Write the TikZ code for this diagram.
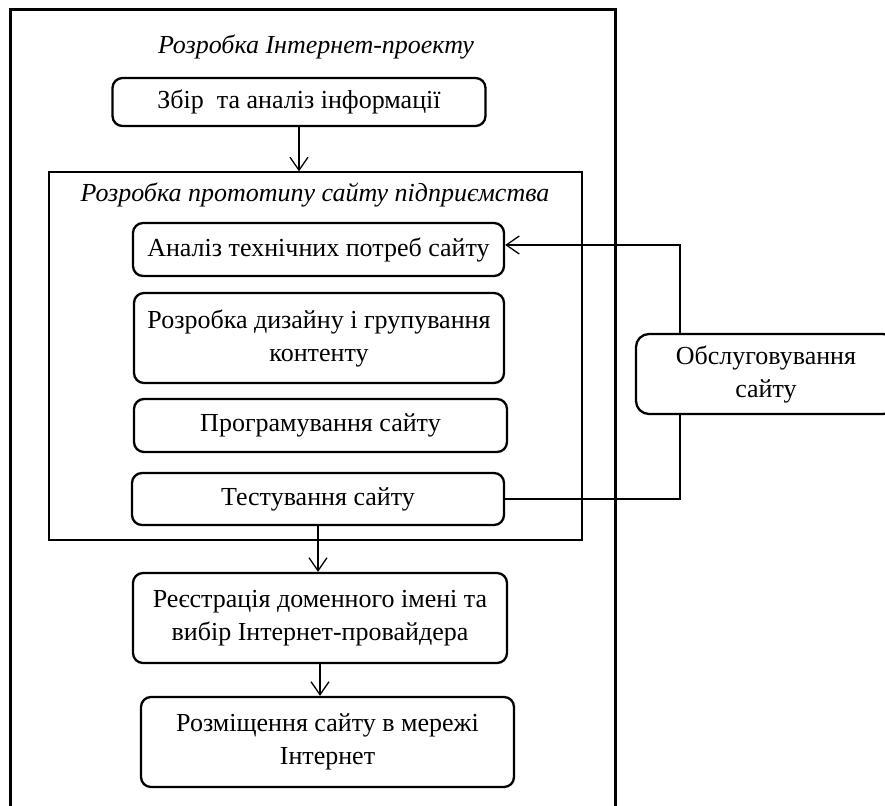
\documentclass[tikz,border=0pt]{standalone}
\usepackage{fontspec}
\setmainfont{Liberation Serif}
\usetikzlibrary{arrows.meta}
\begin{document}
\begin{tikzpicture}[x=1pt,y=-1pt,
  stage/.style={draw, line width=2.3pt, rounded corners=10pt, align=center, inner sep=0pt, font=\fontsize{26}{33}\selectfont},
  outerframe/.style={draw, line width=3pt, inner sep=0pt},
  frame/.style={draw, line width=1.3pt, inner sep=0pt},
  link/.style={line width=1.3pt},
  arr/.style={link, -{Straight Barb[length=13pt,width=18pt,line width=1.3pt]}},
  caption/.style={font=\fontsize{26}{33}\selectfont\itshape, inner sep=0pt}
]
\clip (0,0) rectangle (885,805);
\fill[white] (0,0) rectangle (885,805);
\node[outerframe, minimum width=605pt, minimum height=890pt] (outer) at (312.5,455) {};
\node[caption] (t1) at (316,47) {Розробка Інтернет-проекту};
\node[stage, minimum width=373pt, minimum height=48pt] (collect) at (299,102) {Збір~ та аналіз інформації};
\node[frame, minimum width=533pt, minimum height=368pt] (proto) at (315.5,356) {};
\node[caption] (t2) at (315,195) {Розробка прототипу сайту підприємства};
\node[stage, minimum width=371pt, minimum height=53pt] (analiz) at (318.5,249.5) {Аналіз технічних потреб сайту};
\node[stage, minimum width=370pt, minimum height=90pt] (design) at (319,338) {Розробка дизайну і групування\\контенту};
\node[stage, minimum width=373pt, minimum height=53pt] (prog) at (320.5,425.5) {Програмування сайту};
\node[stage, minimum width=372pt, minimum height=52pt] (test) at (318,499) {Тестування сайту};
\node[stage, minimum width=374pt, minimum height=90pt] (reg) at (320,618) {Реєстрація доменного імені та\\вибір Інтернет-провайдера};
\node[stage, minimum width=373pt, minimum height=90pt] (host) at (327.5,742) {Розміщення сайту в мережі\\Інтернет};
\node[stage, rounded corners=13pt, minimum width=260pt, minimum height=80pt] (serv) at (766,374) {Обслуговування\\сайту};
\coordinate (loop) at (680,374);
\draw[arr] (collect.south) -- (collect.south |- proto.north);
\draw[arr] (test.south) -- (test.south |- reg.north);
\draw[arr] (reg.south) -- (reg.south |- host.north);
\draw[link] (test.east) -- (test.east -| loop) -- (serv.south -| loop);
\draw[arr] (serv.north -| loop) |- ([yshift=4.5pt]analiz.east);
\end{tikzpicture}
\end{document}
